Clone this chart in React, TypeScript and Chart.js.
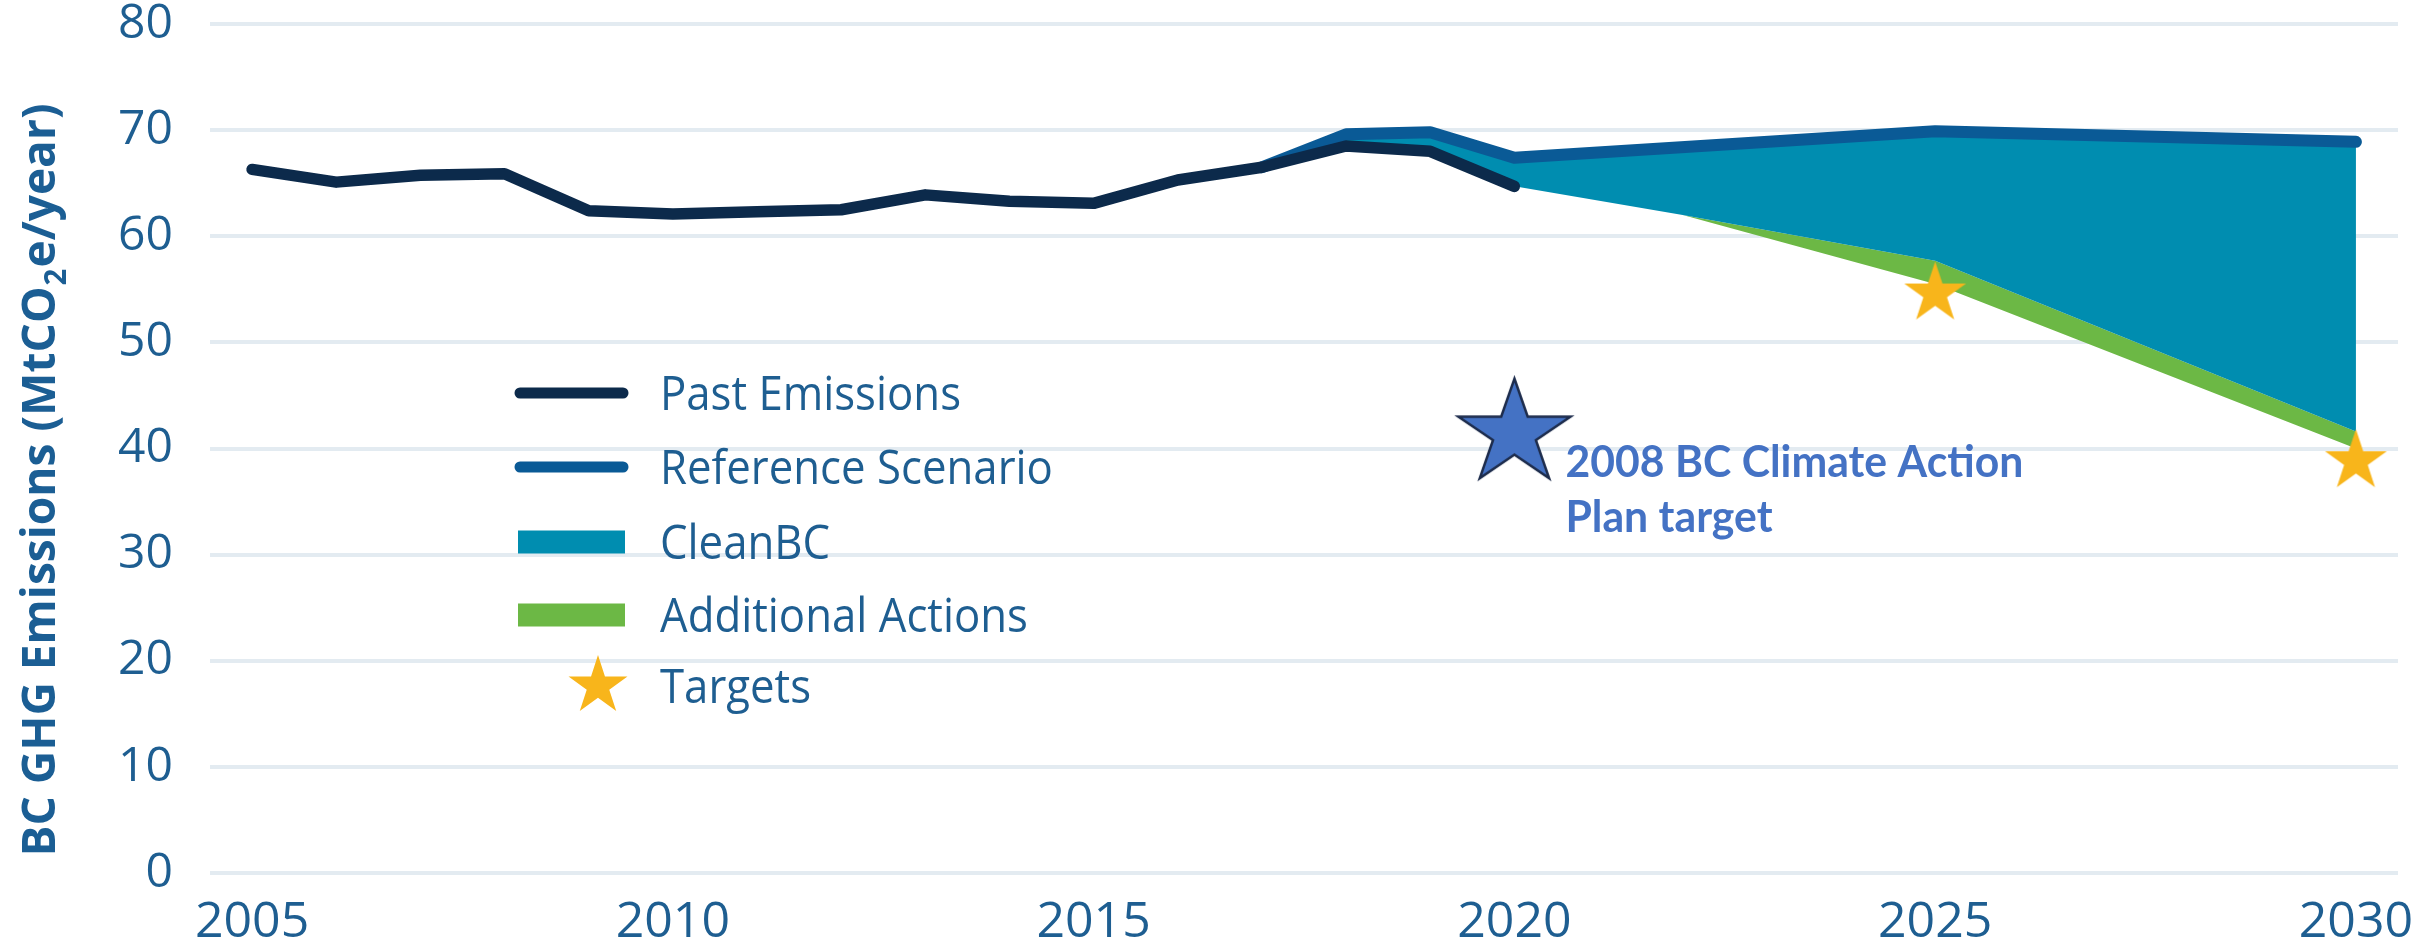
import React, { useEffect, useRef } from 'react';
import { Chart, registerables } from 'chart.js';

Chart.register(...registerables);

// ---------- data ----------
const pastYears = [2005, 2006, 2007, 2008, 2009, 2010, 2011, 2012, 2013, 2014, 2015, 2016, 2017, 2018, 2019, 2020];
const pastEmissions = [66.3, 65.1, 65.75, 65.9, 62.4, 62.1, 62.3, 62.5, 63.9, 63.3, 63.1, 65.3, 66.5, 68.5, 68.0, 64.7];

const referenceYears = [2017, 2018, 2019, 2020, 2025, 2030];
const referenceScenario = [66.5, 69.6, 69.8, 67.4, 69.9, 68.9];

const cleanBCYears = [2017, 2018, 2019, 2020, 2022, 2025, 2030];
const cleanBCValues = [66.5, 68.5, 68.0, 64.7, 62.0, 57.7, 41.6];

const additionalYears = [2022, 2025, 2030];
const additionalValues = [62.0, 55.5, 40.0];

const targetYears = [2025, 2030];
const targetValues = [54.6, 38.8];

const planTargetYears = [2020];
const planTargetValues = [41.4];

const xTickYears = [2005, 2010, 2015, 2020, 2025, 2030];

const legendLabels = ['Past Emissions', 'Reference Scenario', 'CleanBC', 'Additional Actions', 'Targets'];
const annotationLines = ['2008 BC Climate Action', 'Plan target'];
const yTitleParts = ['BC GHG Emissions (MtCO', '2', 'e/year)'];

// ---------- styles ----------
const C_PAST = '#0c2a4b';
const C_REF = '#0a5a96';
const C_CLEAN = '#008db0';
const C_ADD = '#6cb845';
const C_GOLD = '#f8b51b';
const C_BLUESTAR = '#4472c4';
const C_TEXT = '#1e5e91';
const C_GRID = '#e3ebf1';
const TICK_FONT = "'Open Sans', sans-serif";

function pts(xs: number[], ys: number[]) {
  return xs.map((x, i) => ({ x, y: ys[i] }));
}

function makeStar(rx: number, ry: number, fill: string, stroke: string | null, lw: number) {
  const c = document.createElement('canvas');
  const pad = lw + 2;
  c.width = Math.ceil(2 * rx + 2 * pad);
  c.height = Math.ceil(2 * ry + 2 * pad);
  const ctx = c.getContext('2d')!;
  ctx.translate(c.width / 2, c.height / 2);
  ctx.beginPath();
  for (let i = 0; i < 10; i++) {
    const r = i % 2 === 0 ? 1 : 0.382;
    const a = -Math.PI / 2 + (i * Math.PI) / 5;
    const px = Math.cos(a) * r * rx;
    const py = Math.sin(a) * r * ry;
    if (i === 0) ctx.moveTo(px, py);
    else ctx.lineTo(px, py);
  }
  ctx.closePath();
  ctx.fillStyle = fill;
  ctx.fill();
  if (stroke && lw > 0) {
    ctx.strokeStyle = stroke;
    ctx.lineWidth = lw;
    ctx.lineJoin = 'miter';
    ctx.stroke();
  }
  return c;
}

export default function App() {
  const ref = useRef<HTMLCanvasElement | null>(null);

  useEffect(() => {
    const canvas = ref.current;
    if (!canvas) return;

    const goldStar = makeStar(32.5, 32, C_GOLD, null, 0);
    const legendStar = makeStar(31, 31, C_GOLD, null, 0);
    const blueStar = makeStar(59, 55, C_BLUESTAR, '#1d2c4c', 2.5);

    const customDraw = {
      id: 'customDraw',
      afterDraw(chart: any) {
        const ctx = chart.ctx as CanvasRenderingContext2D;
        ctx.save();

        // ---- y axis title ----
        ctx.save();
        ctx.translate(38, 480);
        ctx.rotate(-Math.PI / 2);
        const mainFont = "bold 47px 'Open Sans', sans-serif";
        const subFont = "bold 30px 'Open Sans', sans-serif";
        ctx.font = mainFont;
        const w1 = ctx.measureText(yTitleParts[0]).width;
        const w3 = ctx.measureText(yTitleParts[2]).width;
        ctx.font = subFont;
        const w2 = ctx.measureText(yTitleParts[1]).width + 2;
        const total = w1 + w2 + w3;
        const targetLen = 753;
        const sx = targetLen / total;
        ctx.scale(sx, 1);
        ctx.fillStyle = '#1b5e94';
        ctx.textBaseline = 'alphabetic';
        ctx.textAlign = 'left';
        let tx = -total / 2;
        ctx.font = mainFont;
        ctx.fillText(yTitleParts[0], tx, 17);
        tx += w1;
        ctx.font = subFont;
        ctx.fillText(yTitleParts[1], tx + 1, 28);
        tx += w2;
        ctx.font = mainFont;
        ctx.fillText(yTitleParts[2], tx, 17);
        ctx.restore();

        // ---- legend ----
        const rowsY = [393, 467, 542, 615, 686];
        const symL = 515;
        const symR = 628;
        const textX = 660;
        ctx.lineCap = 'round';
        ctx.strokeStyle = C_PAST;
        ctx.lineWidth = 11;
        ctx.beginPath();
        ctx.moveTo(symL + 5, rowsY[0]);
        ctx.lineTo(symR - 5, rowsY[0]);
        ctx.stroke();
        ctx.strokeStyle = C_REF;
        ctx.beginPath();
        ctx.moveTo(symL + 5, rowsY[1]);
        ctx.lineTo(symR - 5, rowsY[1]);
        ctx.stroke();
        ctx.fillStyle = C_CLEAN;
        ctx.fillRect(symL + 3, rowsY[2] - 11.5, symR - symL - 6, 23);
        ctx.fillStyle = C_ADD;
        ctx.fillRect(symL + 3, rowsY[3] - 11.5, symR - symL - 6, 23);
        ctx.drawImage(legendStar, 598 - legendStar.width / 2, rowsY[4] - legendStar.height / 2);

        const legFont = "47px 'Open Sans', sans-serif";
        ctx.font = legFont;
        const lsx = 301 / ctx.measureText(legendLabels[0]).width;
        ctx.fillStyle = C_TEXT;
        ctx.textAlign = 'left';
        ctx.textBaseline = 'alphabetic';
        legendLabels.forEach((lab, i) => {
          ctx.save();
          ctx.translate(textX, rowsY[i] + 17);
          ctx.scale(lsx, 1);
          ctx.fillText(lab, 0, 0);
          ctx.restore();
        });

        // ---- annotation ----
        const xs = chart.scales.x;
        const ys = chart.scales.y;
        const ax = xs.getPixelForValue(planTargetYears[0]) + 51;
        const ay = ys.getPixelForValue(planTargetValues[0]);
        const annFont = "bold 44px Lato, 'Open Sans', sans-serif";
        ctx.font = annFont;
        const asx = 458 / ctx.measureText(annotationLines[0]).width;
        ctx.fillStyle = C_BLUESTAR;
        annotationLines.forEach((line, i) => {
          ctx.save();
          ctx.translate(ax, ay + 43 + i * 55);
          ctx.scale(asx, 1);
          ctx.fillText(line, 0, 0);
          ctx.restore();
        });

        ctx.restore();
      },
    };

    const chart = new Chart(canvas, {
      type: 'line',
      data: {
        datasets: [
          {
            label: 'Reference Scenario',
            data: pts(referenceYears, referenceScenario),
            borderColor: C_REF,
            borderWidth: 12,
            pointRadius: 0,
            fill: false,
            tension: 0,
            borderCapStyle: 'round',
            borderJoinStyle: 'round',
            order: 2,
          },
          {
            label: 'CleanBC',
            data: pts(cleanBCYears, cleanBCValues),
            borderColor: 'rgba(0,0,0,0)',
            borderWidth: 0,
            backgroundColor: C_CLEAN,
            pointRadius: 0,
            fill: { target: 0 },
            tension: 0,
            order: 3,
          },
          {
            label: 'Additional Actions',
            data: pts(additionalYears, additionalValues),
            borderColor: 'rgba(0,0,0,0)',
            borderWidth: 0,
            backgroundColor: C_ADD,
            pointRadius: 0,
            fill: { target: 1 },
            tension: 0,
            order: 4,
          },
          {
            label: 'Past Emissions',
            data: pts(pastYears, pastEmissions),
            borderColor: C_PAST,
            borderWidth: 11.5,
            pointRadius: 0,
            fill: false,
            tension: 0,
            borderCapStyle: 'round',
            borderJoinStyle: 'round',
            order: 1,
          },
          {
            label: 'Targets',
            data: pts(targetYears, targetValues),
            showLine: false,
            pointStyle: goldStar,
            pointRadius: 32,
            clip: false,
            order: 0,
          },
          {
            label: '2008 BC Climate Action Plan target',
            data: pts(planTargetYears, planTargetValues),
            showLine: false,
            pointStyle: blueStar,
            pointRadius: 55,
            clip: false,
            order: 0,
          },
        ] as any,
      },
      options: {
        responsive: false,
        animation: false,
        devicePixelRatio: 1,
        layout: { autoPadding: false, padding: { left: 0, top: 24, right: 22, bottom: 0 } },
        plugins: {
          legend: { display: false },
          tooltip: { enabled: false },
          title: { display: false },
        },
        scales: {
          x: {
            type: 'linear',
            min: 2004.5,
            max: 2030.5,
            afterBuildTicks: (axis: any) => {
              axis.ticks = xTickYears.map((v) => ({ value: v }));
            },
            afterFit: (scale: any) => {
              scale.height = 78;
              scale.paddingLeft = 0;
              scale.paddingRight = 0;
            },
            grid: { display: false, drawTicks: false },
            border: { display: false },
            ticks: {
              autoSkip: false,
              maxRotation: 0,
              padding: 20,
              color: C_TEXT,
              font: { family: TICK_FONT, size: 50 },
              callback: (v: any) => String(v),
            },
          },
          y: {
            type: 'linear',
            min: 0,
            max: 80,
            afterFit: (scale: any) => {
              scale.width = 210;
              scale.paddingTop = 0;
              scale.paddingBottom = 0;
            },
            grid: { color: C_GRID, lineWidth: 4, drawTicks: false },
            border: { display: false },
            ticks: {
              stepSize: 10,
              padding: 37,
              color: C_TEXT,
              font: { family: TICK_FONT, size: 48 },
            },
          },
        },
      } as any,
      plugins: [customDraw],
    });

    return () => {
      chart.destroy();
    };
  }, []);

  return (
    <div style={{ position: 'absolute', left: 0, top: 0, width: 2420, height: 951, background: '#ffffff' }}>
      <canvas ref={ref} width={2420} height={951} style={{ display: 'block' }} />
    </div>
  );
}
